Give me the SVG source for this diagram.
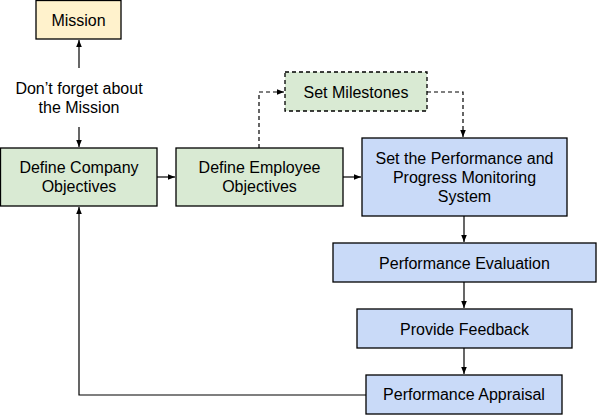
<svg xmlns="http://www.w3.org/2000/svg" width="597" height="415" viewBox="0 0 597 415">
<defs>
<style>
.box{stroke:#000;stroke-width:1.3}
.yel{fill:#fff2cc}
.grn{fill:#d9ead3}
.blu{fill:#c9daf8}
.dash{stroke-dasharray:4,3}
text{font-family:"Liberation Sans",Arial,sans-serif;font-size:16px;fill:#000;text-anchor:middle;dominant-baseline:central}
.c{fill:none;stroke:#000;stroke-width:1.2}
.cd{fill:none;stroke:#000;stroke-width:1.2;stroke-dasharray:4,3}
</style>
<marker id="ah" viewBox="0 0 10 10" refX="10" refY="5" markerWidth="7" markerHeight="7" markerUnits="userSpaceOnUse" orient="auto">
<path d="M0,1 L10,5 L0,9 Z" fill="#000"/>
</marker>
</defs>
<rect width="597" height="415" fill="#fff"/>
<g id="connectors">
<line class="c" x1="79" y1="68" x2="79" y2="40" marker-end="url(#ah)"/>
<line class="c" x1="79" y1="127" x2="79" y2="147" marker-end="url(#ah)"/>
<line class="c" x1="157" y1="177" x2="175" y2="177" marker-end="url(#ah)"/>
<line class="c" x1="343" y1="177" x2="361" y2="177" marker-end="url(#ah)"/>
<polyline class="cd" points="259,148 259,92 284,92" marker-end="url(#ah)"/>
<polyline class="cd" points="427,92 463,92 463,137" marker-end="url(#ah)"/>
<line class="c" x1="464" y1="216" x2="464" y2="242" marker-end="url(#ah)"/>
<line class="c" x1="464" y1="282" x2="464" y2="308" marker-end="url(#ah)"/>
<line class="c" x1="464" y1="348" x2="464" y2="374" marker-end="url(#ah)"/>
<polyline class="c" points="366,395 79,395 79,207" marker-end="url(#ah)"/>
</g>
<g id="mission">
<rect class="box yel" x="36" y="0.5" width="85" height="38.5"/>
<text x="78.5" y="20">Mission</text>
</g>
<g id="label-mission">
<text x="79" y="88">Don’t forget about</text>
<text x="79" y="107">the Mission</text>
</g>
<g id="company-objectives">
<rect class="box grn" x="0.5" y="148" width="156.5" height="58"/>
<text x="79" y="167">Define Company</text>
<text x="79" y="186">Objectives</text>
</g>
<g id="employee-objectives">
<rect class="box grn" x="176" y="148" width="167" height="58"/>
<text x="259.5" y="167">Define Employee</text>
<text x="259.5" y="186">Objectives</text>
</g>
<g id="milestones">
<rect class="box grn dash" x="285" y="72" width="142" height="39"/>
<text x="356" y="92">Set Milestones</text>
</g>
<g id="monitoring">
<rect class="box blu" x="362" y="138" width="205" height="78"/>
<text x="464.5" y="158">Set the Performance and</text>
<text x="464.5" y="177">Progress Monitoring</text>
<text x="464.5" y="196">System</text>
</g>
<g id="evaluation">
<rect class="box blu" x="333" y="243" width="263" height="39"/>
<text x="464.5" y="263">Performance Evaluation</text>
</g>
<g id="feedback">
<rect class="box blu" x="357" y="309" width="215" height="39"/>
<text x="464.5" y="329">Provide Feedback</text>
</g>
<g id="appraisal">
<rect class="box blu" x="366" y="375" width="196" height="39"/>
<text x="464" y="394.5">Performance Appraisal</text>
</g>
</svg>
